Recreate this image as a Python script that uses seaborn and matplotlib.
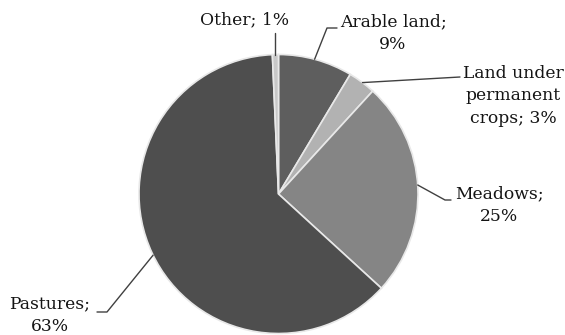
import numpy as np
import matplotlib
matplotlib.use("Agg")
import matplotlib.pyplot as plt
import seaborn as sns

categories = ["Arable land", "Land under\npermanent\ncrops", "Meadows", "Pastures", "Other"]
shares = [8.6, 3.2, 25.0, 62.5, 0.7]
shown_pct = ["9%", "3%", "25%", "63%", "1%"]
colors = ["#5e5e5e", "#b2b2b2", "#858585", "#4e4e4e", "#c8c8c8"]

sns.set_theme(style="white")
plt.rcParams['font.family'] = ['DejaVu Serif']

W, H = 565, 335
fig = plt.figure(figsize=(W / 100, H / 100), dpi=100)
ax = fig.add_axes([0, 0, 1, 1])
cx, cy, r = 278.5, H - 194, 139.5
wedges, _ = ax.pie(shares, colors=colors, startangle=90, counterclock=False,
                   center=(cx, cy), radius=r,
                   wedgeprops=dict(edgecolor="#e8e8e8", linewidth=1.2))
ax.set_xlim(0, W)
ax.set_ylim(0, H)
ax.set_aspect("equal")
ax.axis("off")

def edge(deg):
    a = np.deg2rad(deg)
    return cx + r * np.cos(a), cy + r * np.sin(a)

def mid(i):
    w = wedges[i]
    return edge(0.5 * (w.theta1 + w.theta2))

fs = 12.3
ls = 1.42
tc = "#141414"
lc = "#404040"
# Arable land
x0, y0 = edge(75)
ax.plot([x0, 327, 337], [y0, H - 28, H - 28], color=lc, lw=1)
ax.text(393, H - 33, f"{categories[0]};\n{shown_pct[0]}", ha="center", va="center",
        fontsize=fs, linespacing=ls, color=tc)
# Land under permanent crops
x0, y0 = edge(53)
ax.plot([x0, 460], [y0, H - 77], color=lc, lw=1)
ax.text(513, H - 96, f"Land under\npermanent\ncrops; {shown_pct[1]}", ha="center", va="center",
        fontsize=fs, linespacing=ls, color=tc)
# Meadows
x0, y0 = edge(3.7)
ax.plot([x0, 445, 451], [y0, H - 200, H - 200], color=lc, lw=1)
ax.text(499, H - 205, f"{categories[2]};\n{shown_pct[2]}", ha="center", va="center",
        fontsize=fs, linespacing=ls, color=tc)
# Pastures
x0, y0 = edge(206)
ax.plot([x0, 107, 97], [y0, H - 312, H - 312], color=lc, lw=1)
ax.text(50, H - 315, f"{categories[3]};\n{shown_pct[3]}", ha="center", va="center",
        fontsize=fs, linespacing=ls, color=tc)
# Other
x0, y0 = mid(4)
ax.plot([x0, x0], [y0, H - 33], color=lc, lw=1)
ax.text(245, H - 20, f"{categories[4]}; {shown_pct[4]}", ha="center", va="center",
        fontsize=fs, color=tc)

fig.savefig("out.png", dpi=100, facecolor="white")
